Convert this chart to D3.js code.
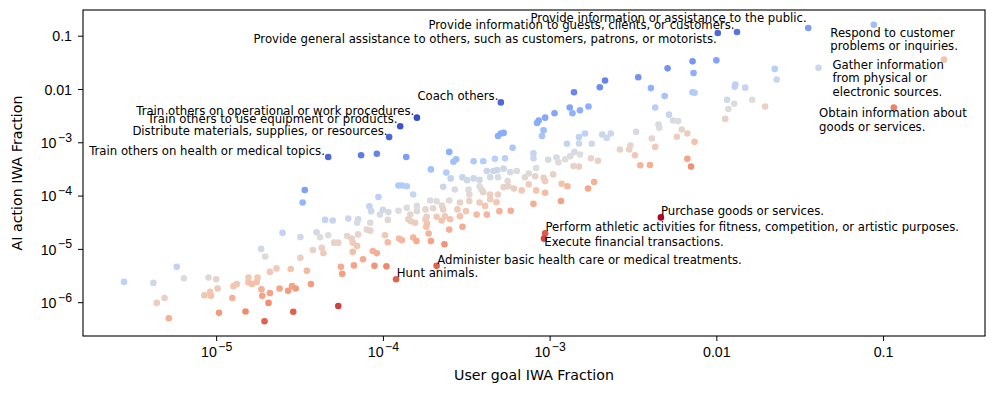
<!DOCTYPE html>
<html>
<head>
<meta charset="utf-8">
<script src="https://cdn.jsdelivr.net/npm/d3@7"></script>
<style>
  body { margin: 0; background: #fff; }
  svg { font-family: "DejaVu Sans", sans-serif; }
</style>
</head>
<body>
<svg id="chart" width="996" height="394"></svg>
<script>
// unlabelled IWAs: user goal fraction / AI action fraction
const userGoal = [
  2.8e-6, 4.2e-6, 5.8e-6, 6.4e-6, 4.9e-6, 4.4e-6, 5.2e-6, 9.0e-6, 1.0e-5, 1.02e-5,
  9.2e-6, 8.5e-6, 9.3e-6, 1.04e-5, 1.25e-5, 1.27e-5, 1.33e-5, 1.56e-5, 1.56e-5, 1.64e-5,
  1.75e-5, 1.77e-5, 1.5e-5, 1.86e-5, 1.97e-5, 2.1e-5, 2.3e-5, 2.4e-5, 1.87e-5, 1.89e-5,
  2.1e-5, 2.06e-5, 1.95e-5, 2.5e-5, 2.8e-5, 3.2e-5, 3.2e-5, 2.7e-5, 2.85e-5, 3.0e-5,
  2.9e-5, 3.5e-5, 3.7e-5, 3.3e-5, 3.4e-5, 3.8e-5, 4.0e-5, 4.2e-5, 4.3e-5, 4.4e-5,
  4.5e-5, 5.0e-5, 4.7e-5, 5.1e-5, 5.4e-5, 5.4e-5, 5.6e-5, 5.7e-5, 6.1e-5, 6.2e-5,
  6.5e-5, 7.1e-5, 7.1e-5, 7.0e-5, 6.6e-5, 6.6e-5, 7.0e-5, 6.7e-5, 7.6e-5, 7.4e-5,
  9.2e-5, 8.3e-5, 8.5e-5, 8.4e-5, 8.0e-5, 8.4e-5, 8.7e-5, 9.2e-5, 8.9e-5, 9.4e-5,
  9.6e-5, 1.0e-4, 1.08e-4, 1.07e-4, 1.03e-4, 1.07e-4, 1.05e-4, 1.38e-4, 1.24e-4, 1.3e-4,
  1.39e-4, 1.52e-4, 1.24e-4, 1.39e-4, 1.46e-4, 1.6e-4, 1.6e-4, 1.42e-4, 1.47e-4, 1.56e-4,
  1.25e-4, 1.3e-4, 1.52e-4, 1.59e-4, 1.8e-4, 1.84e-4, 1.82e-4, 1.88e-4, 1.94e-4, 2.34e-4,
  2.5e-4, 3.0e-4, 1.94e-4, 2.4e-4, 2.55e-4, 2.5e-4, 2.75e-4, 2.65e-4, 3.0e-4, 3.2e-4,
  3.5e-4, 3.8e-4, 3.5e-4, 4.0e-4, 4.7e-4, 5.4e-4, 6.0e-4, 2.3e-4, 2.7e-4, 3.26e-4,
  3.3e-4, 3.8e-4, 3.9e-4, 4.2e-4, 4.6e-4, 4.85e-4, 5.3e-4, 5.8e-4, 6.35e-4, 4.4e-4,
  4.9e-4, 5.6e-4, 4.0e-4, 4.4e-4, 4.9e-4, 5.3e-4, 5.65e-4, 6.1e-4, 6.8e-4, 1.92e-4,
  2.1e-4, 2.26e-4, 2.5e-4, 2.9e-4, 3.3e-4, 3.8e-4, 4.1e-4, 4.4e-4, 4.8e-4, 1.8e-4,
  2.0e-4, 2.3e-4, 2.8e-4, 3.15e-4, 3.65e-4, 4.2e-4, 5.0e-4, 2.36e-4, 1.83e-4, 2.1e-4,
  2.25e-4, 2.53e-4, 2.9e-4, 5.85e-4, 8.0e-4, 7.1e-4, 8.2e-4, 9.2e-4, 9.4e-4, 1.05e-3,
  1.18e-3, 1.28e-3, 8.3e-4, 9.4e-4, 1.17e-3, 7.5e-4, 7.5e-4, 1.7e-3, 1.85e-3, 4.9e-4,
  5.1e-4, 5.3e-4, 8.4e-4, 8.6e-4, 9.4e-4, 9.2e-4, 9.0e-4, 1.07e-3, 1.27e-3, 8.0e-4,
  8.0e-4, 9.8e-4, 1.1e-3, 1.13e-3, 1.24e-3, 1.33e-3, 1.41e-3, 1.52e-3, 1.77e-3, 1.95e-3,
  1.39e-3, 1.5e-3, 1.5e-3, 1.79e-3, 1.63e-3, 1.5e-3, 1.32e-3, 1.37e-3, 1.52e-3, 1.71e-3,
  1.4e-3, 2.0e-3, 2.15e-3, 2.07e-3, 2.2e-3, 2.33e-3, 2.64e-3, 3.0e-3, 3.05e-3, 3.25e-3,
  3.5e-3, 4.0e-3, 3.3e-3, 4.1e-3, 4.3e-3, 6.7e-3, 7.05e-3, 7.4e-3, 6.2e-3, 6.7e-3,
  5.8e-3, 4.5e-3, 4.55e-3, 5.5e-3, 5.9e-3, 5.2e-3, 4.3e-3, 4.9e-3, 4.05e-3, 3.4e-3,
  5.1e-3, 7.2e-3, 1.0e-2, 7.3e-3, 7.2e-3, 7.4e-3, 1.3e-2, 1.29e-2, 1.49e-2, 2.24e-2,
  2.3e-2, 4.1e-2, 1.16e-2, 1.28e-2, 1.18e-2, 1.64e-2, 1.96e-2, 1.13e-2, 8.3e-4
];
const aiAction = [
  2.4e-6, 2.3e-6, 4.6e-6, 2.8e-6, 1.2e-6, 9.7e-7, 5.0e-7, 2.9e-6, 2.7e-6, 1.8e-6,
  1.56e-6, 1.35e-6, 1.32e-6, 6.3e-7, 1.2e-6, 2.0e-6, 2.2e-6, 2.9e-6, 2.35e-6, 2.2e-6,
  2.4e-6, 2.9e-6, 6.7e-7, 1.0e-5, 7.2e-6, 3.7e-6, 4.3e-6, 1.8e-6, 1.74e-6, 1.32e-6,
  1.48e-6, 9.7e-7, 4.4e-7, 2.0e-5, 4.2e-6, 6.8e-6, 1.67e-5, 1.64e-6, 2.0e-6, 1.8e-6,
  6.6e-7, 3.9e-6, 2.2e-6, 7.4e-5, 1.27e-4, 9.5e-6, 2.05e-5, 1.65e-5, 1.05e-5, 8.3e-6,
  3.5e-5, 3.4e-5, 1.8e-5, 1.31e-5, 1.31e-5, 8.5e-7, 4.6e-6, 3.4e-6, 1.74e-5, 3.7e-5,
  1.56e-5, 1.87e-5, 3.6e-5, 3.1e-5, 1.3e-5, 8.8e-6, 1.13e-5, 4.9e-6, 6.4e-6, 5.7e-4,
  6.1e-4, 6.3e-5, 5.1e-5, 3.1e-5, 2.3e-5, 2.2e-5, 9.1e-6, 8.3e-6, 4.8e-6, 9.4e-5,
  4.4e-5, 5.4e-5, 4.9e-5, 3.5e-5, 1.8e-5, 1.33e-5, 4.7e-6, 5.3e-4, 1.55e-4, 1.55e-4,
  1.5e-4, 1.05e-4, 5.2e-5, 5.9e-5, 4.4e-5, 5.1e-5, 6.4e-5, 3.6e-5, 3.3e-5, 3.1e-5,
  1.56e-5, 1.45e-5, 1.63e-5, 1.4e-5, 3.6e-5, 3.0e-5, 2.6e-5, 1.94e-5, 1.4e-5, 1.22e-5,
  2.3e-5, 2.6e-5, 3.1e-4, 2.7e-4, 2.1e-4, 6.6e-4, 4.8e-4, 4.3e-4, 2.2e-4, 1.95e-4,
  2.1e-4, 1.97e-4, 4.4e-4, 4.4e-4, 4.9e-4, 5.0e-4, 7.9e-4, 1.46e-4, 1.3e-4, 1.3e-4,
  1.05e-4, 1.5e-4, 1.3e-4, 2.9e-4, 2.9e-4, 3.0e-4, 3.2e-4, 2.75e-4, 2.9e-4, 2.2e-4,
  2.2e-4, 1.87e-4, 1.16e-4, 1.05e-4, 1.05e-4, 1.44e-4, 1.5e-4, 1.36e-4, 1.25e-4, 8.1e-5,
  7.8e-5, 6.5e-5, 8.1e-5, 7.4e-5, 7.9e-5, 7.4e-5, 6.4e-5, 8.5e-5, 7.5e-5, 5.5e-5,
  5.8e-5, 5.5e-5, 5.5e-5, 5.1e-5, 4.4e-5, 4.4e-5, 5.1e-5, 4.1e-5, 4.0e-5, 4.0e-5,
  3.4e-5, 3.6e-5, 4.1e-5, 5.2e-5, 7.0e-5, 2.2e-4, 2.3e-4, 2.16e-4, 1.87e-4, 2.5e-4,
  1.67e-4, 1.5e-4, 1.25e-4, 1.13e-4, 7.9e-5, 1.62e-4, 2.6e-4, 1.36e-4, 1.8e-4, 1.31e-3,
  1.46e-3, 1.5e-3, 2.3e-3, 2.56e-3, 2.9e-3, 1.68e-3, 1.31e-3, 3.5e-3, 9.4e-4, 6.2e-4,
  5.0e-4, 4.7e-4, 5.2e-4, 4.2e-4, 4.8e-4, 5.5e-4, 6.6e-4, 5.9e-4, 5.0e-4, 4.5e-4,
  3.6e-4, 3.5e-4, 9.5e-4, 9.4e-4, 1.46e-3, 1.25e-3, 4.5e-3, 3.5e-3, 4.0e-3, 4.7e-3,
  8.7e-3, 1.08e-2, 1.44e-2, 1.4e-3, 1.21e-3, 1.46e-3, 7.3e-4, 7.3e-4, 8.7e-4, 5.7e-4,
  3.7e-4, 3.75e-4, 1.57e-3, 1.18e-3, 8.2e-4, 4.9e-4, 3.5e-4, 1.02e-3, 1.74e-3, 1.46e-3,
  1.27e-3, 2.15e-3, 1.87e-3, 2.56e-3, 2.5e-3, 3.3e-3, 4.5e-3, 7.4e-3, 1.04e-2, 1.66e-2,
  2.44e-2, 3.3e-2, 3.45e-2, 2.0e-2, 8.7e-3, 8.5e-3, 1.21e-2, 1.1e-2, 1.06e-2, 2.38e-2,
  1.5e-2, 2.5e-2, 6.3e-3, 5.3e-3, 4.2e-3, 6.3e-3, 4.7e-3, 2.75e-3, 3.3e-4
];

// annotated IWAs
const labelText = [
  'Provide information or assistance to the public.',
  'Provide information to guests, clients, or customers.',
  'Provide general assistance to others, such as customers, patrons, or motorists.',
  'Respond to customer\nproblems or inquiries.',
  'Gather information\nfrom physical or\nelectronic sources.',
  'Obtain information about\ngoods or services.',
  'Coach others.',
  'Train others on operational or work procedures.',
  'Train others to use equipment or products.',
  'Distribute materials, supplies, or resources.',
  'Train others on health or medical topics.',
  'Purchase goods or services.',
  'Perform athletic activities for fitness, competition, or artistic purposes.',
  'Execute financial transactions.',
  'Administer basic health care or medical treatments.',
  'Hunt animals.'
];
const labelUser = [3.56e-2, 1.33e-2, 1.02e-2, 8.8e-2, 0.232, 0.116, 5.1e-4, 1.6e-4, 1.27e-4, 1.09e-4, 4.7e-5, 4.65e-3, 9.4e-4, 9.25e-4, 2.1e-4, 1.2e-4];
const labelAi   = [0.139, 0.117, 0.112, 0.16, 3.55e-2, 4.5e-3, 5.6e-3, 2.9e-3, 2.0e-3, 1.25e-3, 5.3e-4, 3.9e-5, 1.96e-5, 1.56e-5, 4.8e-6, 2.7e-6];

const xTickValues = [1e-5, 1e-4, 1e-3, 0.01, 0.1];
const xTickLabels = ['10^\u22125', '10^\u22124', '10^\u22123', '0.01', '0.1'];
const yTickValues = [1e-6, 1e-5, 1e-4, 1e-3, 0.01, 0.1];
const yTickLabels = ['10^\u22126', '10^\u22125', '10^\u22124', '10^\u22123', '0.01', '0.1'];

// where each annotation sits relative to its point (px)
const labelLayout = [
  {dx: -1.5, dy: -6.5, anchor: 'end'},
  {dx: -2.5, dy: -3.5, anchor: 'end'},
  {dx: -1, dy: 9.5, anchor: 'end'},
  {dx: -43.5, dy: 12.3, anchor: 'start'},
  {dx: -111.5, dy: 9.3, anchor: 'start'},
  {dx: -74.7, dy: 9.8, anchor: 'start'},
  {dx: -2.5, dy: -2.5, anchor: 'end'},
  {dx: -2.7, dy: -2.5, anchor: 'end'},
  {dx: -2.7, dy: -3.7, anchor: 'end'},
  {dx: -1.6, dy: -2.2, anchor: 'end'},
  {dx: -3.3, dy: -2.3, anchor: 'end'},
  {dx: 0, dy: -2.7, anchor: 'start'},
  {dx: 0.3, dy: -2.5, anchor: 'start'},
  {dx: 0.3, dy: 7.7, anchor: 'start'},
  {dx: 0.6, dy: -2.2, anchor: 'start'},
  {dx: 0.7, dy: -2, anchor: 'start'}
];

const margin = {top: 10, right: 11, bottom: 58, left: 83},
    width = 996 - margin.left - margin.right,
    height = 394 - margin.top - margin.bottom;

const points = userGoal.map((u, i) => ({u: u, a: aiAction[i]}))
  .concat(labelUser.map((u, i) => ({u: u, a: labelAi[i], label: labelText[i], lay: labelLayout[i]})));

// matplotlib-like 5% padding in log space
function padLog(ext){
  const l0 = Math.log10(ext[0]), l1 = Math.log10(ext[1]), p = (l1 - l0) * 0.05;
  return [Math.pow(10, l0 - p), Math.pow(10, l1 + p)];
}

const x = d3.scaleLog().domain(padLog(d3.extent(points, d => d.u))).range([0, width]);
const y = d3.scaleLog().domain(padLog(d3.extent(points, d => d.a))).range([height, 0]);

// colour by log ratio ai/user, coolwarm (blue = AI-heavy)
const ratio = d => Math.log10(d.a / d.u);
const rExt = d3.extent(points, ratio);
const coolwarm = d3.piecewise(d3.interpolateRgb, [
  '#3b4cc0', '#6282ea', '#8db0fe', '#b8d0f9', '#dddddd',
  '#f5c4ad', '#f49a7b', '#de604d', '#b40426'
]);
const colorScale = d3.scaleLinear().domain([rExt[1], rExt[0]]).range([0, 1]);

const svg = d3.select('#chart');
const g = svg.append('g').attr('transform', `translate(${margin.left},${margin.top})`);

function mathLabel(sel, txt){
  const parts = txt.split('^');
  sel.append('tspan').text(parts[0]);
  if (parts[1]) {
    sel.append('tspan').attr('dx', 1.5).attr('dy', -6.3).attr('font-size', 12.3).text(parts[1]);
  }
}

// x axis
const xAxis = g.append('g')
  .attr('transform', `translate(0,${height})`)
  .call(d3.axisBottom(x).tickValues(xTickValues).tickSize(5).tickFormat(''));
xAxis.select('.domain').remove();
xAxis.selectAll('.tick line').attr('stroke', '#000').attr('stroke-width', 1);
xAxis.selectAll('.tick').each(function(d){
  const i = xTickValues.indexOf(d);
  const t = d3.select(this).append('text')
    .attr('y', 21).attr('fill', '#000').attr('font-size', 14.2)
    .attr('text-anchor', 'middle');
  mathLabel(t, xTickLabels[i]);
});

// y axis
const yAxis = g.append('g')
  .call(d3.axisLeft(y).tickValues(yTickValues).tickSize(5).tickFormat(''));
yAxis.select('.domain').remove();
yAxis.selectAll('.tick line').attr('stroke', '#000').attr('stroke-width', 1);
yAxis.selectAll('.tick').each(function(d){
  const i = yTickValues.indexOf(d);
  const t = d3.select(this).append('text')
    .attr('x', -11).attr('y', 5.2).attr('fill', '#000').attr('font-size', 14.2)
    .attr('text-anchor', 'end');
  mathLabel(t, yTickLabels[i]);
});

// points
g.selectAll('.dot')
  .data(points)
  .enter()
  .append('circle')
  .attr('class', 'dot')
  .attr('cx', d => x(d.u))
  .attr('cy', d => y(d.a))
  .attr('r', 3.3)
  .attr('fill', d => coolwarm(colorScale(ratio(d))));

// annotations
const ann = g.selectAll('.ann')
  .data(points.filter(d => d.label))
  .enter()
  .append('text')
  .attr('class', 'ann')
  .attr('font-size', 11.7)
  .attr('fill', '#000')
  .attr('text-anchor', d => d.lay.anchor)
  .attr('x', d => x(d.u) + d.lay.dx)
  .attr('y', d => y(d.a) + d.lay.dy);
ann.each(function(d){
  const t = d3.select(this);
  d.label.split('\n').forEach((line, k) => {
    t.append('tspan')
      .attr('x', x(d.u) + d.lay.dx)
      .attr('dy', k === 0 ? 0 : 13.3)
      .text(line);
  });
});

// frame
g.append('rect')
  .attr('width', width).attr('height', height)
  .attr('fill', 'none').attr('stroke', '#000').attr('stroke-width', 1.1);

// axis titles
svg.append('text')
  .attr('x', margin.left + width / 2).attr('y', 380)
  .attr('text-anchor', 'middle').attr('font-size', 14.2)
  .text('User goal IWA Fraction');
svg.append('text')
  .attr('transform', `translate(21.5,${margin.top + height / 2}) rotate(-90)`)
  .attr('text-anchor', 'middle').attr('font-size', 14.2)
  .text('AI action IWA Fraction');
</script>
</body>
</html>
